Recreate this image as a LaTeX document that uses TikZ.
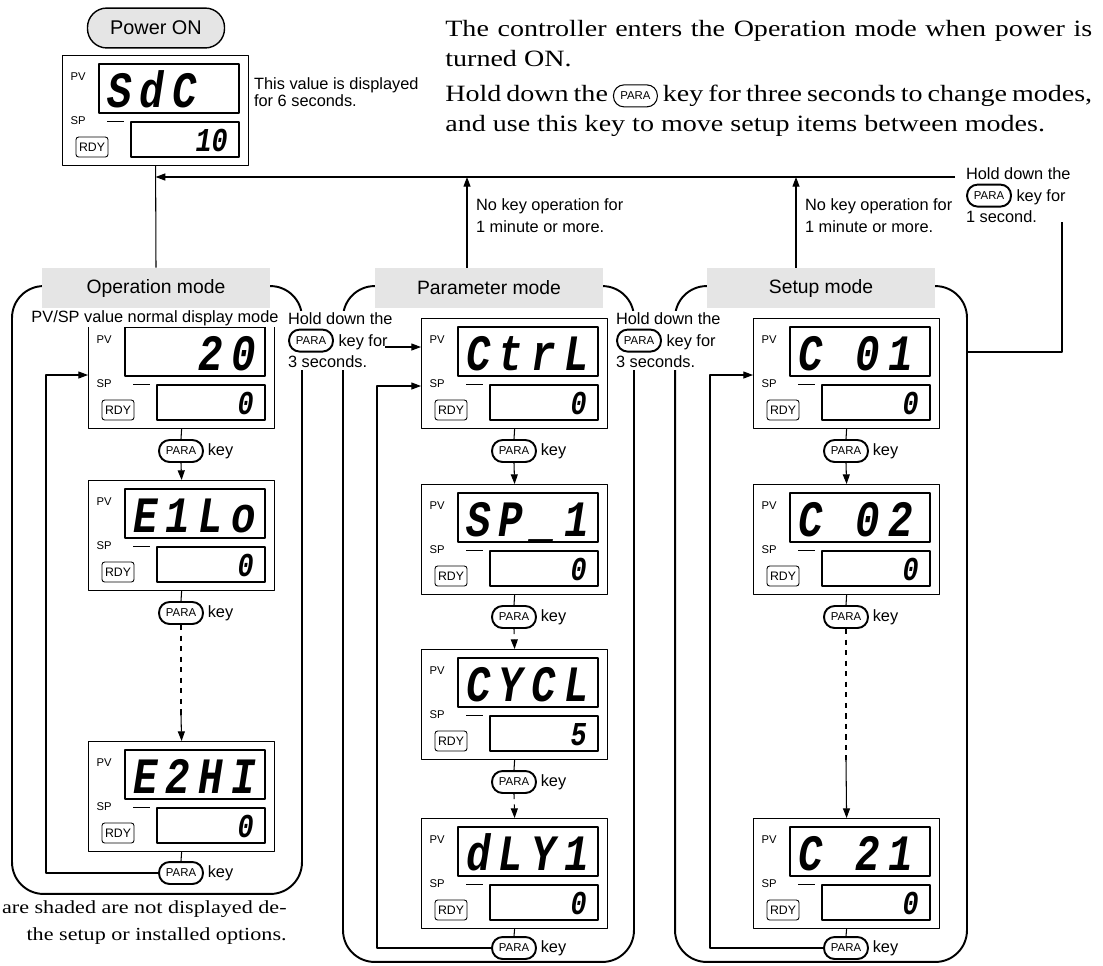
\documentclass[tikz,border=0pt]{standalone}
\usepackage{fontspec}
\setmainfont{Liberation Sans}
\newfontfamily\bodyserif{Liberation Serif}[FakeStretch=1.2]
\newfontfamily\segfont{Liberation Mono}[FakeStretch=0.8, LetterSpace=16]
\newfontfamily\segspfont{Liberation Mono}[FakeStretch=0.8]
\usetikzlibrary{positioning,arrows.meta}
\definecolor{shade}{gray}{0.9}

\tikzset{
  line/.style={line width=0.6pt},
  arrow/.style={line width=0.6pt, ->},
  frame/.style={draw, line width=1.1pt, rounded corners=18pt},
  modelabel/.style={fill=shade, minimum width=4.56cm, minimum height=0.8cm, inner sep=0pt, font=\fontsize{11}{13}\selectfont},
  panelbox/.style={draw, line width=0.7pt, minimum width=3.72cm, minimum height=2.2cm, inner sep=0pt},
  window/.style={draw, line width=0.7pt},
  tag/.style={font=\fontsize{6.4}{7}\selectfont, inner sep=0pt},
  rdy/.style={draw, line width=0.5pt, rounded corners=1.5pt, minimum width=0.64cm, minimum height=0.4cm, inner sep=0pt, font=\fontsize{7}{8}\selectfont},
  segpv/.style={font=\segfont\bfseries\itshape\fontsize{29}{29}\selectfont, inner sep=0pt},
  segsp/.style={font=\segspfont\bfseries\itshape\fontsize{19}{19}\selectfont, inner sep=0pt},
  keypill/.style={draw, line width=1.1pt, rounded corners=6pt, minimum width=25pt, minimum height=12.5pt, inner sep=0pt, fill=white, font=\normalfont\fontsize{6.5}{7}\selectfont},
  keytext/.style={font=\fontsize{9.3}{11}\selectfont, inner sep=1pt},
  note/.style={font=\fontsize{9.3}{12.2}\selectfont, align=left, inner sep=1pt},
  whitenote/.style={note, fill=white},
}

% inline PARA key
\newcommand{\parakey}[1][1.1pt]{\tikz[baseline={([yshift=-3.3pt]pk.center)}]\node[keypill, line width=#1] (pk) {PARA};}

% display panel: name, x, y, PV text, SP text
\newcommand{\panel}[5]{%
  \begin{scope}[shift={(#2,#3)}]
    \node[panelbox, anchor=north west] (#1) at (0,0) {};
    \draw[window] (37,9) rectangle (177,58);
    \draw[window] (69,67) rectangle (177,102);
    \draw[line width=0.5pt] (45,66) -- (62,66);
    \node[tag] (#1pv) at (16,22) {PV};
    \node[tag] (#1sp) at (16,66) {SP};
    \node[rdy] (#1rdy) at (30,92) {RDY};
    \node[segpv, anchor=base west] (#1a) at (45,52) {#4};
    \node[segsp, anchor=base east] (#1b) at (166,96) {#5};
  \end{scope}}

\begin{document}
\begin{tikzpicture}[x=0.02cm, y=-0.02cm, line join=round, >={Triangle[length=5.5pt,width=4pt]}]
\useasboundingbox (0,0) rectangle (1103,965);

% mode frames
\node[frame, minimum width=5.8cm, minimum height=12.16cm] (opframe) at (157,590) {};
\node[frame, minimum width=5.82cm, minimum height=13.52cm] (parframe) at (488.5,624) {};
\node[frame, minimum width=5.84cm, minimum height=13.52cm] (setframe) at (821,624) {};
\node[modelabel] (oplab) at (156,288) {Operation mode};
\node[modelabel] (parlab) at (489,288) {Parameter mode};
\node[modelabel] (setlab) at (821,288) {Setup mode};

% power on
\node[draw, fill=shade, line width=0.8pt, rounded corners=11pt, minimum width=78pt, minimum height=22.7pt, font=\fontsize{11.3}{13}\selectfont] (power) at (156,28) {Power ON};
\panel{top}{62}{55}{SdC}{10}
\node[note, anchor=north west, font=\fontsize{9.3}{9.6}\selectfont] (sixsec) at (252,76) {This value is displayed\\for 6 seconds.};

% texts
\node[anchor=north west, text width=12.94cm, align=justify, inner sep=0pt, font=\bodyserif\fontsize{13.3}{17}\selectfont] (intro1) at (445,20) {The controller enters the Operation mode when power is\linebreak turned ON.};
\node[anchor=north west, text width=12.94cm, align=justify, inner sep=0pt, font=\bodyserif\fontsize{13.3}{17}\selectfont] (intro2) at (445,84) {Hold down the \parakey[0.6pt] key for three seconds to change modes,\linebreak and use this key to move setup items between modes.};
\node[anchor=north east, align=right, inner sep=0pt, font=\bodyserif\fontsize{10.5}{15.3}\selectfont] (shadenote) at (287,900) {are shaded are not displayed de-\\the setup or installed options.};

\node[whitenote, anchor=north west] (hold1) at (286,311) {Hold down the\\\parakey\ key for\\3 seconds.};
\node[whitenote, anchor=north west] (hold2) at (614,311) {Hold down the\\\parakey\ key for\\3 seconds.};
\node[note, anchor=north west] (hold3) at (964,166) {Hold down the\\\parakey\ key for\\1 second.};
\node[note, anchor=north west] (idle1) at (474,197) {No key operation for\\1 minute or more.};
\node[note, anchor=north west] (idle2) at (803,197) {No key operation for\\1 minute or more.};

% panels
\panel{op1}{88}{318}{\ \ 20}{0}
\panel{op2}{88}{480}{E1Lo}{0}
\panel{op3}{88}{741}{E2HI}{0}
\panel{par1}{421}{318}{CtrL}{0}
\panel{par2}{421}{484}{SP\_1}{0}
\panel{par3}{421}{649}{CYCL}{5}
\panel{par4}{421}{818}{dLY1}{0}
\panel{set1}{753}{318}{C\ 01}{0}
\panel{set2}{753}{484}{C\ 02}{0}
\panel{set3}{753}{818}{C\ 21}{0}
\node[whitenote] (opnote) at (155,318) {PV/SP value normal display mode};

% PARA keys
\foreach \n/\x/\y in {opk1/181/451, opk2/181/613, opk3/181/873,
  park1/514/451, park2/514/617, park3/514/782, park4/514/948,
  setk1/846/451, setk2/846/617, setk3/846/948}{
  \node[keypill] (\n) at (\x,\y) {PARA};
  \node[keytext, right=1pt of \n] (\n-key) {key};
}

\coordinate (topln) at (955,177);
\coordinate (up1) at (467,177);
\coordinate (up2) at (796,177);
\coordinate (ret) at (1062,222);
\coordinate (retin) at (0,352);
\coordinate (hold1end) at (385,347);
\coordinate (oplp) at (46,375);
\coordinate (parlp) at (377,386);
\coordinate (setlp) at (710,375);
\coordinate (opd) at (181,715);
\coordinate (setd) at (846,760);

% return paths
\draw[line] (top.south) -- (oplab.north);
\draw[arrow] (topln) -- (top.south |- topln);
\draw[arrow] (parlab.north -| up1) -- (up1);
\draw[arrow] (setlab.north -| up2) -- (up2);
\draw[line] (setframe.east |- retin) -| (ret);
\draw[arrow] (hold1end) -- (hold1end -| par1.west);

% operation mode
\draw[line] (op1.south) -- (opk1.north);
\draw[arrow] (opk1.south) -- (op2.north);
\draw[line] (op2.south) -- (opk2.north);
\draw[line, dashed] (opk2.south) -- (opd);
\draw[arrow] (opd) -- (op3.north);
\draw[line] (op3.south) -- (opk3.north);
\draw[arrow] (opk3.west) -| (oplp) -- (oplp -| op1.west);

% parameter mode
\draw[line] (par1.south) -- (park1.north);
\draw[arrow] (park1.south) -- (par2.north);
\draw[line] (par2.south) -- (park2.north);
\draw[arrow, dashed] (park2.south) -- (par3.north);
\draw[line] (par3.south) -- (park3.north);
\draw[arrow, dashed] (park3.south) -- (par4.north);
\draw[line] (par4.south) -- (park4.north);
\draw[arrow] (park4.west) -| (parlp) -- (parlp -| par1.west);

% setup mode
\draw[line] (set1.south) -- (setk1.north);
\draw[arrow] (setk1.south) -- (set2.north);
\draw[line] (set2.south) -- (setk2.north);
\draw[line, dashed] (setk2.south) -- (setd);
\draw[arrow] (setd) -- (set3.north);
\draw[line] (set3.south) -- (setk3.north);
\draw[arrow] (setk3.west) -| (setlp) -- (setlp -| set1.west);
\end{tikzpicture}
\end{document}
